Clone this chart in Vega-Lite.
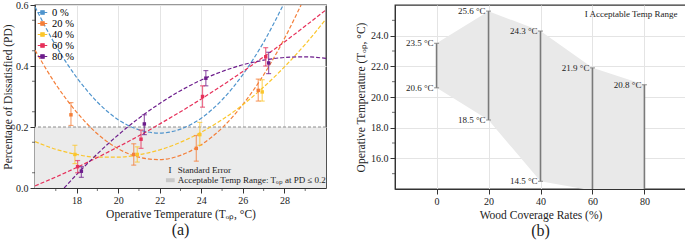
{
  "$schema": "https://vega.github.io/schema/vega-lite/v6.json",
  "padding": {"left": 1, "right": 2, "top": -1, "bottom": 0},
  "spacing": 26,
  "config": {
    "font": "Liberation Serif",
    "view": {"stroke": "#333", "strokeWidth": 1.3},
    "axis": {"labelFontSize": 10, "titleFontSize": 11.5, "titleFontWeight": "normal", "labelColor": "#222", "titleColor": "#222", "domainColor": "#333", "tickColor": "#333", "gridColor": "#e4e4e4", "labelPadding": 2, "tickSize": 5, "titlePadding": 3},
    "title": {"fontSize": 16, "fontWeight": "normal", "color": "#222"},
    "legend": {"labelFont": "Liberation Serif"}
  },
  "datasets": {
    "curves": [
      {"series": "0 %", "T": 16, "PD": 0.594}, {"series": "0 %", "T": 17, "PD": 0.467}, {"series": "0 %", "T": 18, "PD": 0.363}, {"series": "0 %", "T": 19, "PD": 0.282}, {"series": "0 %", "T": 20, "PD": 0.224}, {"series": "0 %", "T": 21, "PD": 0.191}, {"series": "0 %", "T": 22, "PD": 0.180}, {"series": "0 %", "T": 23, "PD": 0.193}, {"series": "0 %", "T": 24, "PD": 0.229}, {"series": "0 %", "T": 25, "PD": 0.289}, {"series": "0 %", "T": 26, "PD": 0.372}, {"series": "0 %", "T": 27, "PD": 0.478}, {"series": "0 %", "T": 27.94, "PD": 0.6},
      {"series": "20 %", "T": 16, "PD": 0.452}, {"series": "20 %", "T": 17, "PD": 0.340}, {"series": "20 %", "T": 18, "PD": 0.249}, {"series": "20 %", "T": 19, "PD": 0.178}, {"series": "20 %", "T": 20, "PD": 0.129}, {"series": "20 %", "T": 21, "PD": 0.101}, {"series": "20 %", "T": 22, "PD": 0.093}, {"series": "20 %", "T": 23, "PD": 0.107}, {"series": "20 %", "T": 24, "PD": 0.142}, {"series": "20 %", "T": 25, "PD": 0.197}, {"series": "20 %", "T": 26, "PD": 0.274}, {"series": "20 %", "T": 27, "PD": 0.371}, {"series": "20 %", "T": 28, "PD": 0.490}, {"series": "20 %", "T": 28.8, "PD": 0.6},
      {"series": "40 %", "T": 16, "PD": 0.152}, {"series": "40 %", "T": 17, "PD": 0.127}, {"series": "40 %", "T": 18, "PD": 0.110}, {"series": "40 %", "T": 19, "PD": 0.101}, {"series": "40 %", "T": 20, "PD": 0.101}, {"series": "40 %", "T": 21, "PD": 0.109}, {"series": "40 %", "T": 22, "PD": 0.125}, {"series": "40 %", "T": 23, "PD": 0.150}, {"series": "40 %", "T": 24, "PD": 0.183}, {"series": "40 %", "T": 25, "PD": 0.224}, {"series": "40 %", "T": 26, "PD": 0.273}, {"series": "40 %", "T": 27, "PD": 0.331}, {"series": "40 %", "T": 28, "PD": 0.397}, {"series": "40 %", "T": 29, "PD": 0.471}, {"series": "40 %", "T": 30, "PD": 0.554},
      {"series": "60 %", "T": 16, "PD": 0.007}, {"series": "60 %", "T": 17, "PD": 0.036}, {"series": "60 %", "T": 18, "PD": 0.067}, {"series": "60 %", "T": 19, "PD": 0.100}, {"series": "60 %", "T": 20, "PD": 0.135}, {"series": "60 %", "T": 21, "PD": 0.171}, {"series": "60 %", "T": 22, "PD": 0.210}, {"series": "60 %", "T": 23, "PD": 0.250}, {"series": "60 %", "T": 24, "PD": 0.292}, {"series": "60 %", "T": 25, "PD": 0.336}, {"series": "60 %", "T": 26, "PD": 0.382}, {"series": "60 %", "T": 27, "PD": 0.430}, {"series": "60 %", "T": 28, "PD": 0.479}, {"series": "60 %", "T": 29, "PD": 0.531}, {"series": "60 %", "T": 30, "PD": 0.584},
      {"series": "80 %", "T": 17.4, "PD": 0.0}, {"series": "80 %", "T": 18, "PD": 0.044}, {"series": "80 %", "T": 19, "PD": 0.112}, {"series": "80 %", "T": 20, "PD": 0.174}, {"series": "80 %", "T": 21, "PD": 0.229}, {"series": "80 %", "T": 22, "PD": 0.277}, {"series": "80 %", "T": 23, "PD": 0.319}, {"series": "80 %", "T": 24, "PD": 0.354}, {"series": "80 %", "T": 25, "PD": 0.382}, {"series": "80 %", "T": 26, "PD": 0.404}, {"series": "80 %", "T": 27, "PD": 0.419}, {"series": "80 %", "T": 28, "PD": 0.428}, {"series": "80 %", "T": 29, "PD": 0.430}, {"series": "80 %", "T": 30, "PD": 0.425}
    ],
    "points": [
      {"series": "20 %", "T": 17.73, "PD": 0.24, "lo": 0.205, "hi": 0.28},
      {"series": "20 %", "T": 20.75, "PD": 0.11, "lo": 0.075, "hi": 0.145},
      {"series": "20 %", "T": 23.76, "PD": 0.13, "lo": 0.088, "hi": 0.172},
      {"series": "20 %", "T": 26.74, "PD": 0.32, "lo": 0.285, "hi": 0.357},
      {"series": "40 %", "T": 17.92, "PD": 0.11, "lo": 0.08, "hi": 0.14},
      {"series": "40 %", "T": 20.92, "PD": 0.11, "lo": 0.085, "hi": 0.135},
      {"series": "40 %", "T": 23.93, "PD": 0.175, "lo": 0.14, "hi": 0.215},
      {"series": "40 %", "T": 26.93, "PD": 0.315, "lo": 0.285, "hi": 0.355},
      {"series": "60 %", "T": 18.05, "PD": 0.07, "lo": 0.05, "hi": 0.09},
      {"series": "60 %", "T": 21.1, "PD": 0.16, "lo": 0.13, "hi": 0.19},
      {"series": "60 %", "T": 24.06, "PD": 0.30, "lo": 0.265, "hi": 0.335},
      {"series": "60 %", "T": 27.1, "PD": 0.43, "lo": 0.40, "hi": 0.46},
      {"series": "80 %", "T": 18.23, "PD": 0.055, "lo": 0.035, "hi": 0.07},
      {"series": "80 %", "T": 21.26, "PD": 0.21, "lo": 0.175, "hi": 0.24},
      {"series": "80 %", "T": 24.22, "PD": 0.36, "lo": 0.335, "hi": 0.385},
      {"series": "80 %", "T": 27.24, "PD": 0.41, "lo": 0.375, "hi": 0.445}
    ],
    "ranges": [
      {"w": 0, "lo": 20.6, "hi": 23.5},
      {"w": 20, "lo": 18.5, "hi": 25.6},
      {"w": 40, "lo": 14.5, "hi": 24.3},
      {"w": 60, "lo": 13.9, "hi": 21.9},
      {"w": 80, "lo": 13.6, "hi": 20.8}
    ],
    "rangeLabels": [
      {"w": 0, "v": 23.5, "label": "23.5 °C"},
      {"w": 0, "v": 20.6, "label": "20.6 °C"},
      {"w": 20, "v": 25.6, "label": "25.6 °C"},
      {"w": 20, "v": 18.5, "label": "18.5 °C"},
      {"w": 40, "v": 24.3, "label": "24.3 °C"},
      {"w": 40, "v": 14.5, "label": "14.5 °C"},
      {"w": 60, "v": 21.9, "label": "21.9 °C"},
      {"w": 80, "v": 20.8, "label": "20.8 °C"}
    ],
    "minorA_y": [{"T": 16, "PD": 0.05}, {"T": 16, "PD": 0.15}, {"T": 16, "PD": 0.25}, {"T": 16, "PD": 0.35}, {"T": 16, "PD": 0.45}, {"T": 16, "PD": 0.55}],
    "minorA_x": [{"T": 17, "PD": 0}, {"T": 19, "PD": 0}, {"T": 21, "PD": 0}, {"T": 23, "PD": 0}, {"T": 25, "PD": 0}, {"T": 27, "PD": 0}, {"T": 29, "PD": 0}],
    "minorB_y": [{"w": -16, "lo": 15}, {"w": -16, "lo": 17}, {"w": -16, "lo": 19}, {"w": -16, "lo": 21}, {"w": -16, "lo": 23}, {"w": -16, "lo": 25}]
  },
  "hconcat": [
    {
      "width": 291,
      "height": 183,
      "title": {"text": "(a)", "orient": "bottom", "offset": 2},
      "layer": [
        {
          "data": {"values": [{"lo": 0, "hi": 0.2}]},
          "mark": {"type": "rect", "fill": "#ebebeb"},
          "encoding": {
            "y": {"field": "lo", "type": "quantitative", "scale": {"domain": [0, 0.6], "nice": false}, "axis": {"title": "Percentage of Dissatisfied (PD)", "values": [0, 0.1, 0.2, 0.3, 0.4, 0.5, 0.6], "format": ".1f", "titlePadding": 2}},
            "y2": {"field": "hi"}
          }
        },
        {
          "data": {"values": [{"lo": 0.2}]},
          "mark": {"type": "rule", "color": "#8c8c8c", "strokeDash": [3, 2], "strokeWidth": 1},
          "encoding": {"y": {"field": "lo", "type": "quantitative"}}
        },
        {
          "data": {"name": "curves"},
          "mark": {"type": "line", "interpolate": "monotone", "strokeDash": [4, 2], "strokeWidth": 1.2, "clip": true},
          "encoding": {
            "x": {"field": "T", "type": "quantitative", "scale": {"domain": [16, 30], "nice": false}, "axis": {"title": "Operative Temperature (Tₒₚ, °C)", "values": [18, 20, 22, 24, 26, 28], "format": "d"}},
            "y": {"field": "PD", "type": "quantitative"},
            "color": {
              "field": "series", "type": "nominal",
              "scale": {"domain": ["0 %", "20 %", "40 %", "60 %", "80 %"], "range": ["#4f94cd", "#f47f3a", "#fbc62c", "#e6305a", "#6d1d8c"]},
              "legend": {"title": null, "orient": "top-left", "offset": 2, "labelFontSize": 10.5, "symbolType": "M-1,0H1M-0.35,-0.35H0.35V0.35H-0.35Z", "symbolSize": 90, "symbolStrokeWidth": 1.2, "rowPadding": -2, "padding": 0}
            },
            "detail": {"field": "series"}
          }
        },
        {
          "data": {"name": "points"},
          "mark": {"type": "rule", "strokeWidth": 1.2, "opacity": 0.7},
          "encoding": {
            "x": {"field": "T", "type": "quantitative"},
            "y": {"field": "lo", "type": "quantitative"},
            "y2": {"field": "hi"},
            "color": {"field": "series", "type": "nominal", "legend": null}
          }
        },
        {
          "data": {"name": "points"},
          "mark": {"type": "tick", "orient": "horizontal", "size": 5, "thickness": 1.2, "opacity": 0.7},
          "encoding": {
            "x": {"field": "T", "type": "quantitative"},
            "y": {"field": "lo", "type": "quantitative"},
            "color": {"field": "series", "type": "nominal", "legend": null}
          }
        },
        {
          "data": {"name": "points"},
          "mark": {"type": "tick", "orient": "horizontal", "size": 5, "thickness": 1.2, "opacity": 0.7},
          "encoding": {
            "x": {"field": "T", "type": "quantitative"},
            "y": {"field": "hi", "type": "quantitative"},
            "color": {"field": "series", "type": "nominal", "legend": null}
          }
        },
        {
          "data": {"name": "points"},
          "mark": {"type": "point", "shape": "square", "filled": true, "size": 12, "opacity": 1},
          "encoding": {
            "x": {"field": "T", "type": "quantitative"},
            "y": {"field": "PD", "type": "quantitative"},
            "color": {"field": "series", "type": "nominal", "legend": null}
          }
        },
        {
          "data": {"values": [{"T": 22.3, "T2": 22.72, "lo": 0.019, "hi": 0.032}]},
          "mark": {"type": "rect", "fill": "#c8c8c8"},
          "encoding": {
            "x": {"field": "T", "type": "quantitative"},
            "x2": {"field": "T2"},
            "y": {"field": "lo", "type": "quantitative"},
            "y2": {"field": "hi"}
          }
        },
        {
          "data": {"values": [
            {"T": 22.42, "PD": 0.059, "label": "I"},
            {"T": 22.87, "PD": 0.059, "label": "Standard Error"},
            {"T": 22.87, "PD": 0.025, "label": "Acceptable Temp Range: Tₒₚ at PD ≤ 0.2"}
          ]},
          "mark": {"type": "text", "align": "left", "baseline": "middle", "fontSize": 9, "color": "#222"},
          "encoding": {
            "x": {"field": "T", "type": "quantitative"},
            "y": {"field": "PD", "type": "quantitative"},
            "text": {"field": "label"}
          }
        },
        {
          "data": {"name": "minorA_y"},
          "mark": {"type": "tick", "orient": "horizontal", "size": 3, "thickness": 1, "xOffset": -1.5, "color": "#333"},
          "encoding": {
            "x": {"field": "T", "type": "quantitative"},
            "y": {"field": "PD", "type": "quantitative"}
          }
        },
        {
          "data": {"name": "minorA_x"},
          "mark": {"type": "tick", "orient": "vertical", "size": 3, "thickness": 1, "yOffset": 1.5, "color": "#333"},
          "encoding": {
            "x": {"field": "T", "type": "quantitative"},
            "y": {"field": "PD", "type": "quantitative"}
          }
        }
      ]
    },
    {
      "width": 291,
      "height": 184,
      "title": {"text": "(b)", "orient": "bottom", "offset": 2},
      "layer": [
        {
          "data": {"name": "ranges"},
          "mark": {"type": "area", "color": "#e9e9e9", "clip": true},
          "encoding": {
            "x": {"field": "w", "type": "quantitative", "scale": {"domain": [-16, 96], "nice": false}, "axis": {"title": "Wood Coverage Rates (%)", "values": [0, 20, 40, 60, 80]}},
            "y": {"field": "lo", "type": "quantitative", "scale": {"domain": [14, 26], "nice": false}, "axis": {"title": "Operative Temperature (Tₒₚ, °C)", "values": [16, 18, 20, 22, 24], "format": ".1f", "titlePadding": 4}},
            "y2": {"field": "hi"}
          }
        },
        {
          "data": {"name": "ranges"},
          "mark": {"type": "rule", "color": "#7a7a7a", "strokeWidth": 1.6, "clip": true},
          "encoding": {
            "x": {"field": "w", "type": "quantitative"},
            "y": {"field": "lo", "type": "quantitative"},
            "y2": {"field": "hi"}
          }
        },
        {
          "data": {"name": "rangeLabels"},
          "mark": {"type": "tick", "orient": "horizontal", "size": 5, "thickness": 1.2, "color": "#7a7a7a"},
          "encoding": {
            "x": {"field": "w", "type": "quantitative"},
            "y": {"field": "v", "type": "quantitative"}
          }
        },
        {
          "data": {"name": "rangeLabels"},
          "mark": {"type": "text", "align": "right", "baseline": "middle", "dx": -3, "fontSize": 9, "color": "#222"},
          "encoding": {
            "x": {"field": "w", "type": "quantitative"},
            "y": {"field": "v", "type": "quantitative"},
            "text": {"field": "label"}
          }
        },
        {
          "data": {"values": [{"w": 57, "lo": 25.4, "label": "I  Acceptable Temp Range"}]},
          "mark": {"type": "text", "align": "left", "baseline": "middle", "fontSize": 9, "color": "#222"},
          "encoding": {
            "x": {"field": "w", "type": "quantitative"},
            "y": {"field": "lo", "type": "quantitative"},
            "text": {"field": "label"}
          }
        },
        {
          "data": {"name": "minorB_y"},
          "mark": {"type": "tick", "orient": "horizontal", "size": 3, "thickness": 1, "xOffset": -1.5, "color": "#333"},
          "encoding": {
            "x": {"field": "w", "type": "quantitative"},
            "y": {"field": "lo", "type": "quantitative"}
          }
        }
      ]
    }
  ]
}
